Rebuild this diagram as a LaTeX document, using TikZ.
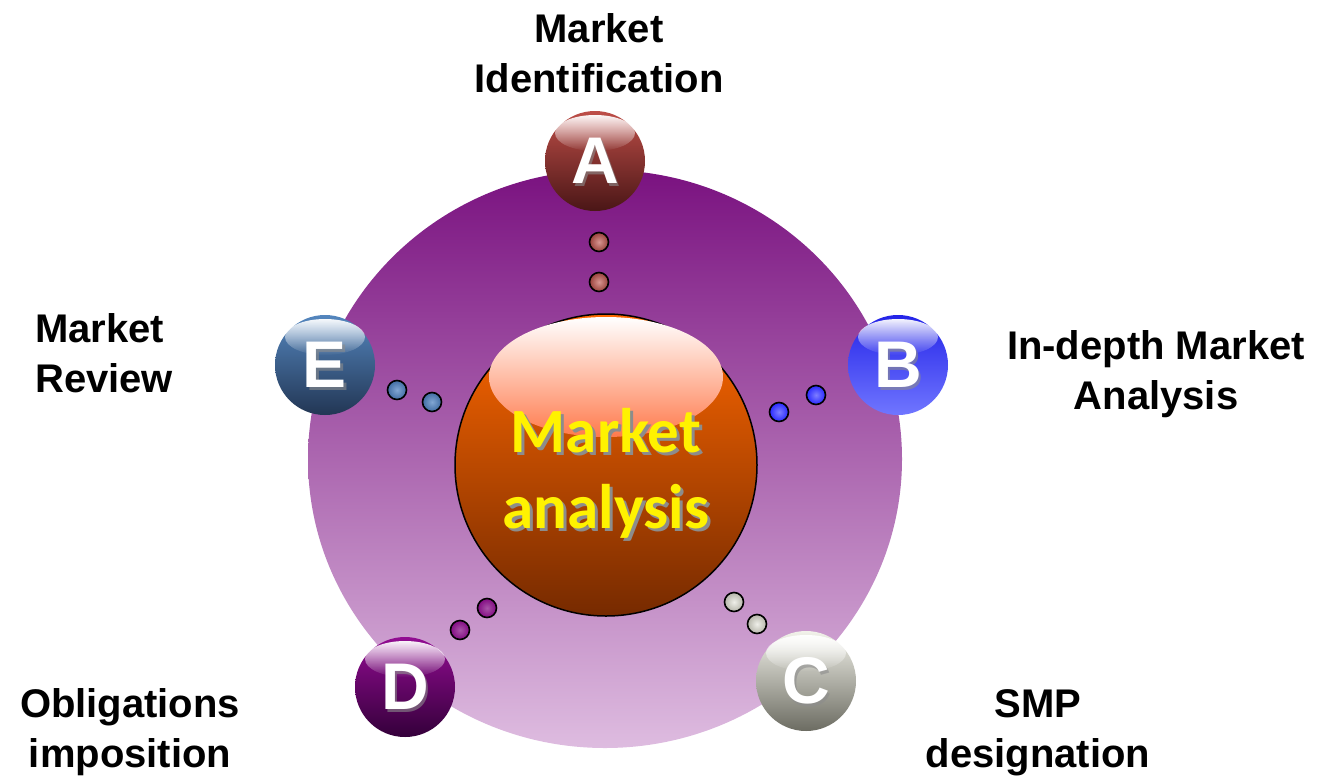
\documentclass[tikz,border=0pt]{standalone}
\usepackage{fontspec}
\usetikzlibrary{fadings}
\setmainfont{Liberation Sans}
\newfontfamily\corefont{Carlito}

% disc and core colours
\definecolor{discTop}{RGB}{122,18,128}
\definecolor{discBot}{RGB}{222,188,224}
\definecolor{coreTop}{RGB}{255,104,0}
\definecolor{coreBot}{RGB}{118,42,0}
\definecolor{coreGloss}{RGB}{255,122,76}
\definecolor{shadowGray}{RGB}{140,140,140}
% ball colours (top / bottom / small dot)
\definecolor{aTop}{RGB}{190,78,72}    \definecolor{aBot}{RGB}{74,22,22}   \definecolor{aDot}{RGB}{190,80,72}
\definecolor{bTop}{RGB}{36,36,232}    \definecolor{bBot}{RGB}{112,118,255}\definecolor{bDot}{RGB}{40,40,255}
\definecolor{cTop}{RGB}{242,242,234}  \definecolor{cBot}{RGB}{108,108,98}  \definecolor{cDot}{RGB}{214,214,200}
\definecolor{dTop}{RGB}{146,12,146}   \definecolor{dBot}{RGB}{52,0,58}    \definecolor{dDot}{RGB}{130,10,130}
\definecolor{eTop}{RGB}{84,134,190}   \definecolor{eBot}{RGB}{34,54,84}   \definecolor{eDot}{RGB}{76,128,192}

\newcommand\twoline[3]{\begin{tabular}[t]{@{}#1@{}}#2\\#3\end{tabular}}

% glossy lettered ball: name, position, letter, colour prefix
\newcommand\glossball[4]{%
  \node[ball, top color=#4Top, bottom color=#4Bot] (#1) at (#2) {};
  \fill[white, path fading=south, opacity=0.95]
    ([yshift=28pt]#1.center) ellipse [x radius=40pt, y radius=18pt];
  \node[balltext, text=shadowGray, opacity=0.6] at ([xshift=2.5pt,yshift=-2.5pt]#1.center) {#3};
  \node[balltext, text=white] (#1-letter) at (#1.center) {#3};
}

\begin{document}
\begin{tikzpicture}[x=1pt,y=-1pt,
  ball/.style={circle, minimum size=100pt, inner sep=0pt},
  balltext/.style={font=\fontsize{66}{66}\selectfont\bfseries, inner sep=0pt},
  dot/.style={circle, draw=black, line width=1.6pt, minimum size=19pt, inner sep=0pt},
  caption/.style={font=\fontsize{40}{50}\selectfont\bfseries, inner sep=0pt, anchor=base},
  coretext/.style={font=\fontsize{63}{76}\selectfont\corefont\bfseries, inner sep=0pt, anchor=base}]

\useasboundingbox (0,0) rectangle (1328,780);

% backdrop disc
\shade[top color=discTop, bottom color=discBot]
  (605,459) ellipse [x radius=297pt, y radius=289pt];

% central sphere
\node[circle, draw=black, line width=1.5pt, minimum size=302pt, inner sep=0pt,
      top color=coreTop, bottom color=coreBot] (core) at (606,465) {};
\shade[top color=white, bottom color=coreGloss]
  ([yshift=88pt]core.center) ellipse [x radius=117pt, y radius=60pt];
\node[coretext, text=shadowGray] at (609,455) {\twoline{c}{Market}{analysis}};
\node[coretext, text=yellow] (title) at (606,452) {\twoline{c}{Market}{analysis}};

% linking dots
\node[dot, inner color=aDot!60!white, outer color=aDot!80!black] (a1) at (599,242) {};
\node[dot, inner color=aDot!60!white, outer color=aDot!80!black] (a2) at (599,282) {};
\node[dot, inner color=bDot!60!white, outer color=bDot] (b1) at (816,395) {};
\node[dot, inner color=bDot!60!white, outer color=bDot] (b2) at (779,412) {};
\node[dot, inner color=cDot!40!white, outer color=cDot!85!black] (c1) at (734,602) {};
\node[dot, inner color=cDot!40!white, outer color=cDot!85!black] (c2) at (757,624) {};
\node[dot, inner color=dDot!70!white, outer color=dDot] (d1) at (487,608) {};
\node[dot, inner color=dDot!70!white, outer color=dDot] (d2) at (460,630) {};
\node[dot, inner color=eDot!70!white, outer color=eDot!85!black] (e1) at (397,390) {};
\node[dot, inner color=eDot!70!white, outer color=eDot!85!black] (e2) at (432,402) {};

% outer stage balls
\glossball{A}{595,161}{A}{a}
\glossball{B}{898,365}{B}{b}
\glossball{C}{806,681}{C}{c}
\glossball{D}{405,687}{D}{d}
\glossball{E}{325,365}{E}{e}

% stage captions
\node[caption] (capA) at (599,42)  {\twoline{c}{Market}{Identification}};
\node[caption] (capB) at (1156,359) {\twoline{c}{In-depth Market}{Analysis}};
\node[caption, anchor=base west] (capE) at (35,342) {\twoline{l}{Market}{Review}};
\node[caption] (capD) at (130,717) {\twoline{c}{Obligations}{imposition}};
\node[caption] (capC) at (1038,717) {\twoline{c}{SMP}{designation}};
\end{tikzpicture}
\end{document}
